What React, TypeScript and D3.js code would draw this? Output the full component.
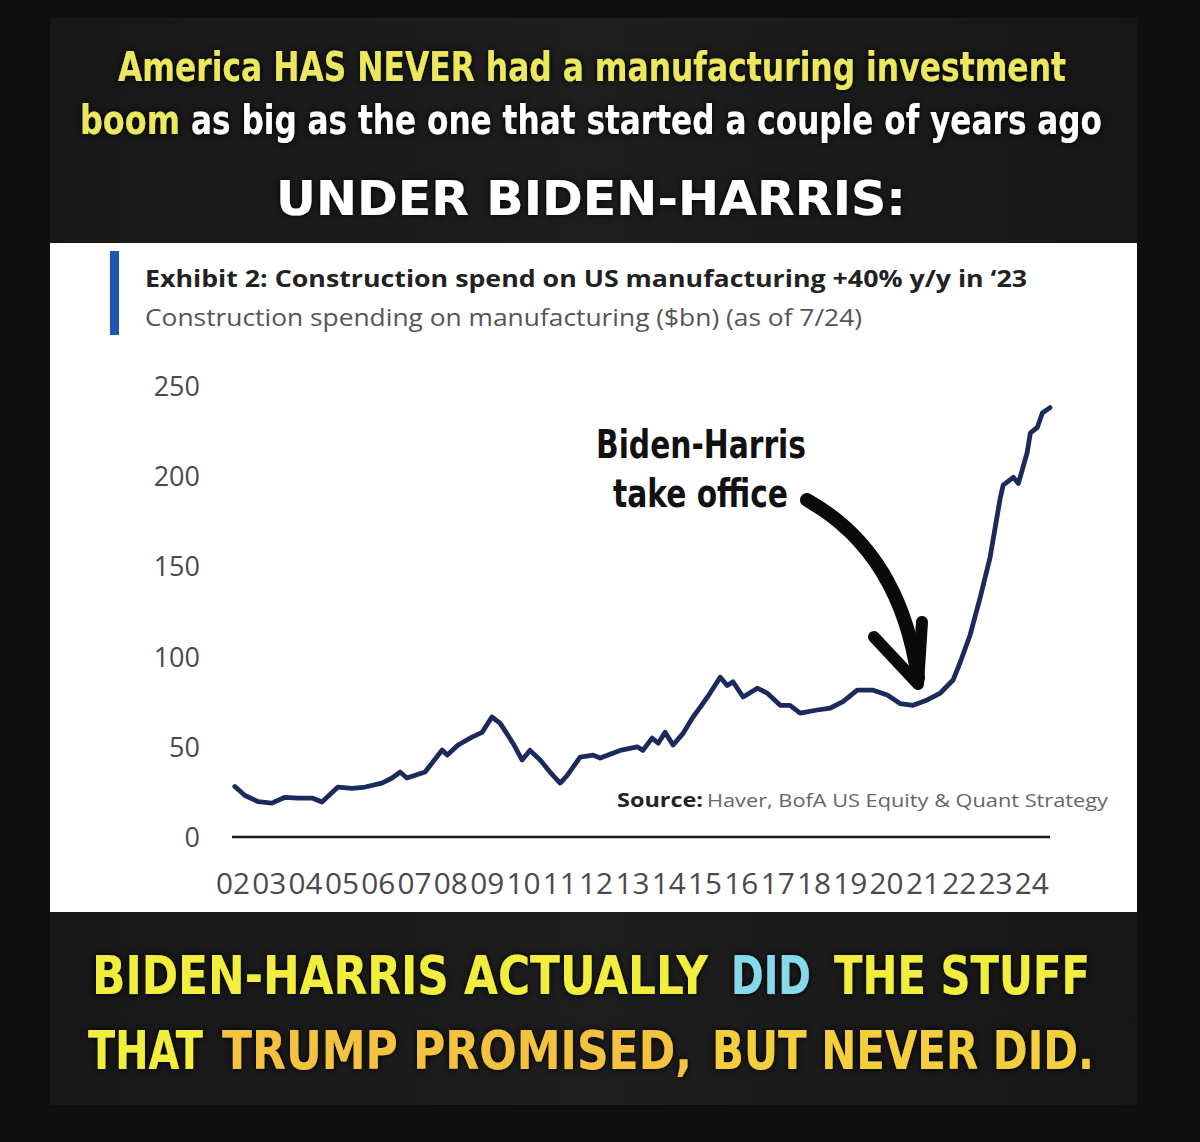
import React from "react";
import * as d3 from "d3";

// ---- data ----
const periods: number[] = [
  2002.05, 2002.33, 2002.69, 2003.07, 2003.43, 2003.79, 2004.18, 2004.45, 2004.89, 2005.28,
  2005.64, 2006.1, 2006.38, 2006.6, 2006.79, 2007.29, 2007.76, 2007.9, 2008.2, 2008.58,
  2008.86, 2009.13, 2009.36, 2009.71, 2009.96, 2010.18, 2010.46, 2010.73, 2011.01, 2011.2,
  2011.56, 2011.92, 2012.11, 2012.66, 2013.13, 2013.29, 2013.54, 2013.71, 2013.9, 2014.12,
  2014.4, 2014.67, 2014.87, 2015.14, 2015.42, 2015.61, 2015.77, 2016.05, 2016.44, 2016.71,
  2017.07, 2017.34, 2017.62, 2018.09, 2018.45, 2018.8, 2019.19, 2019.63, 2020.02, 2020.37,
  2020.73, 2021.12, 2021.48, 2021.83, 2022.03, 2022.3, 2022.58, 2022.85, 2023.13, 2023.21,
  2023.49, 2023.63, 2023.87, 2023.96, 2024.15, 2024.29, 2024.5,
];
const spending: number[] = [
  28, 23, 19.6, 18.8, 22, 21.6, 21.6, 19.4, 27.7, 27,
  27.7, 29.9, 32.7, 36, 32.7, 36, 48.2, 45.4, 51, 55.4,
  58, 66.5, 63, 52, 42.7, 48, 42.7, 36, 29.9, 34,
  44.3, 45.4, 43.8, 48, 50, 48, 54.8, 52, 58, 51,
  57.6, 66.5, 72, 79.8, 88.6, 84, 86, 77.6, 82.5, 79.8,
  73, 73, 68.7, 70.4, 71.5, 75, 81.4, 81.4, 78.7, 74,
  73, 76, 79.8, 87, 97, 112, 133, 155, 188, 195,
  199.4, 196, 213, 224, 227, 235, 238,
];
const yTicks: number[] = [0, 50, 100, 150, 200, 250];
const xTickYears: number[] = d3.range(2002, 2025);
const xTickLabels: string[] = xTickYears.map((yr) => String(yr % 100).padStart(2, "0"));

const headline1 = "America HAS NEVER had a manufacturing investment";
const headline2a = "boom";
const headline2b = "as big as the one that started a couple of years ago";
const headline3 = "UNDER BIDEN-HARRIS:";
const chartTitle = "Exhibit 2: Construction spend on US manufacturing +40% y/y in \u201823";
const chartSubtitle = "Construction spending on manufacturing ($bn) (as of 7/24)";
const sourceBold = "Source:";
const sourceRest = "Haver, BofA US Equity & Quant Strategy";
const annotation = ["Biden-Harris", "take office"];
const footer1 = [
  { t: "BIDEN-HARRIS ACTUALLY", c: "#f1ee3e" },
  { t: "DID", c: "#86d9ea" },
  { t: "THE STUFF", c: "#f1ee3e" },
];
const footer2 = [
  { t: "THAT", c: "#f1ee3e" },
  { t: "TRUMP PROMISED,", c: "#f3c23f" },
  { t: "BUT NEVER DID.", c: "#f4cf3c" },
];

const COND = "'DejaVu Sans Condensed', 'Liberation Sans Narrow', 'Roboto', sans-serif";
const CHART_FONT = "'Open Sans', 'Noto Sans', sans-serif";

function Stretched(props: {
  x: number; y: number; w: number; fs: number; sy: number; fill: string; children: string;
}) {
  const { x, y, w, fs, sy, fill, children } = props;
  return (
    <g transform={`translate(${x},${y}) scale(1,${sy})`}>
      <text x={0} y={0} fontSize={fs} fill={fill} textLength={w} lengthAdjust="spacingAndGlyphs">
        {children}
      </text>
    </g>
  );
}

export default function App() {
  const W = 1200;
  const H = 1142;
  const x = d3.scaleLinear().domain([2002, 2024.5]).range([233, 1050]);
  const y = d3.scaleLinear().domain([0, 250]).range([837, 386]);
  const data = periods.map((p, i) => [p, spending[i]] as [number, number]);
  const line = d3
    .line<[number, number]>()
    .x((d) => x(d[0]))
    .y((d) => y(d[1]))
    .curve(d3.curveLinear);

  const f1Pos = [[92, 708], [731, 811], [834, 1090]];
  const f2Pos = [[88, 203], [222, 692], [712, 1094]];

  return (
    <svg
      width={W}
      height={H}
      style={{ position: "absolute", left: 0, top: 0, display: "block" }}
      xmlns="http://www.w3.org/2000/svg"
    >
      <defs>
        <linearGradient id="panelBg" x1="0" x2="1" y1="0" y2="0">
          <stop offset="0" stopColor="#171717" />
          <stop offset="0.5" stopColor="#1e1e1e" />
          <stop offset="1" stopColor="#161616" />
        </linearGradient>
        <filter id="glow" x="-5%" y="-30%" width="110%" height="160%">
          <feDropShadow dx="0" dy="0" stdDeviation="3" floodColor="#000" floodOpacity="1" />
        </filter>
      </defs>
      <rect x={0} y={0} width={W} height={H} fill="#0e0e0e" />
      <rect x={50} y={18} width={1087} height={1087} fill="url(#panelBg)" />

      {/* headline */}
      <g fontFamily={COND} fontWeight="bold" filter="url(#glow)">
        <Stretched x={118} y={81} w={948} fs={33} sy={1.25} fill="#ebe85e">{headline1}</Stretched>
        <Stretched x={80} y={134} w={100} fs={33} sy={1.25} fill="#ebe85e">{headline2a}</Stretched>
        <Stretched x={191} y={134} w={911} fs={33} sy={1.25} fill="#ffffff">{headline2b}</Stretched>
        <Stretched x={276} y={215} w={630} fs={46} sy={1.05} fill="#ffffff">{headline3}</Stretched>
      </g>

      {/* chart panel */}
      <rect x={50} y={243} width={1087} height={669} fill="#ffffff" />
      <rect x={110} y={251} width={9} height={84} fill="#1f56b0" />
      <text x={145} y={287} fontFamily={CHART_FONT} fontWeight="bold" fontSize={23} fill="#222"
        textLength={882} lengthAdjust="spacingAndGlyphs">
        {chartTitle}
      </text>
      <text x={145} y={326} fontFamily={CHART_FONT} fontSize={23} fill="#555"
        textLength={717} lengthAdjust="spacingAndGlyphs">
        {chartSubtitle}
      </text>

      {/* y ticks */}
      <g fontFamily={CHART_FONT} fontSize={27} fill="#4a4a4a" textAnchor="end">
        {yTicks.map((v) => (
          <text key={v} x={200} y={y(v) + 10}>
            {v}
          </text>
        ))}
      </g>

      {/* x axis */}
      <line x1={232} x2={1050} y1={837} y2={837} stroke="#1a1a1a" strokeWidth={2.5} />
      <g fontFamily={CHART_FONT} fontSize={29} fill="#4a4a4a" textAnchor="middle">
        {xTickYears.map((yr, i) => (
          <text key={yr} x={x(yr)} y={894} textLength={34} lengthAdjust="spacingAndGlyphs">
            {xTickLabels[i]}
          </text>
        ))}
      </g>

      {/* source */}
      <text x={617} y={807} fontFamily={CHART_FONT} fontWeight="bold" fontSize={19} fill="#222"
        textLength={86} lengthAdjust="spacingAndGlyphs">
        {sourceBold}
      </text>
      <text x={707} y={807} fontFamily={CHART_FONT} fontSize={19} fill="#666"
        textLength={401} lengthAdjust="spacingAndGlyphs">
        {sourceRest}
      </text>

      {/* series */}
      <path d={line(data) || ""} fill="none" stroke="#1b2a5c" strokeWidth={4.8}
        strokeLinejoin="round" strokeLinecap="round" />

      {/* annotation */}
      <g fontFamily={COND} fontWeight="bold" fill="#111">
        <Stretched x={596} y={458} w={210} fs={32} sy={1.2} fill="#111">{annotation[0]}</Stretched>
        <Stretched x={613} y={507} w={175} fs={32} sy={1.2} fill="#111">{annotation[1]}</Stretched>
      </g>
      <path d="M 807 500 Q 900 552 918 678" fill="none" stroke="#0a0a0a" strokeWidth={14}
        strokeLinecap="round" />
      <path d="M 874 637 L 918 684 L 922 622" fill="none" stroke="#0a0a0a" strokeWidth={12}
        strokeLinecap="round" strokeLinejoin="round" />

      {/* footer */}
      <g fontFamily={COND} fontWeight="bold" filter="url(#glow)">
        {footer1.map((s, i) => (
          <Stretched key={s.t} x={f1Pos[i][0]} y={994} w={f1Pos[i][1] - f1Pos[i][0]}
            fs={44} sy={1.2} fill={s.c}>
            {s.t}
          </Stretched>
        ))}
        {footer2.map((s, i) => (
          <Stretched key={s.t} x={f2Pos[i][0]} y={1069} w={f2Pos[i][1] - f2Pos[i][0]}
            fs={44} sy={1.2} fill={s.c}>
            {s.t}
          </Stretched>
        ))}
      </g>
    </svg>
  );
}
